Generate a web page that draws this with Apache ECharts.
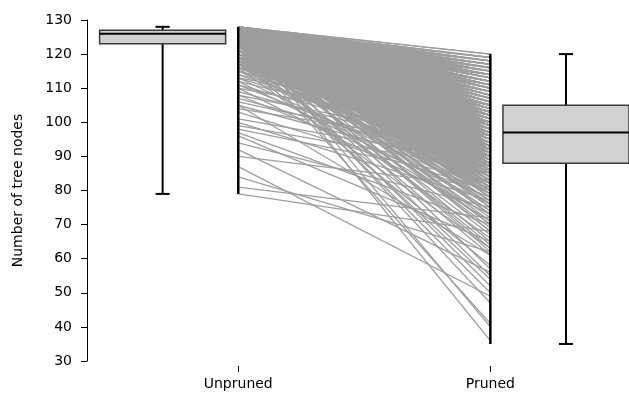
<!DOCTYPE html>
<html>
<head>
<meta charset="utf-8">
<script src="https://cdn.jsdelivr.net/npm/echarts@6/dist/echarts.min.js"></script>
<style>
  html, body { margin: 0; padding: 0; background: #fff; }
  #chart { width: 629px; height: 396px; }
</style>
</head>
<body>
<div id="chart"></div>
<script>
const groups = ['Unpruned', 'Pruned'];

// unpruned node count, and the pruned node counts of the trees that started there
const unprunedLevels = [
  128, 127, 126, 125, 124, 123, 122, 121, 120, 119, 118, 117, 116,
  115, 114, 113, 112, 111, 110, 109, 108, 107, 106, 105, 104, 103,
  101, 100, 99, 98, 97, 96, 94, 92, 90, 87, 84, 81, 79
];
const prunedByLevel = [
  [120,120,119,119,118,118,118,117,117,117,116,116,116,115,115,115,114,114,114,113,
   113,113,112,112,112,111,111,111,110,110,110,109,109,108,108,107,107,106,106,105,
   104,103,102,100,98,96,94,91,88,85,80,75,68,57,40,
   112,110,108,106,104,102,101,100,99,98,97,96,95,93,90,
   92,91,90,89,88,87],
  [119,118,118,117,116,116,115,115,114,114,113,113,112,112,111,111,110,110,109,109,
   108,108,107,107,106,106,105,105,104,104,103,103,102,102,101,101,100,100,99,99,
   98,97,96,95,94,93,92,91,90,89,87,84,78,70,36,
   107,105,103,101,99,97,96,95,94,93,92,91,90,88,86,
   92,91,90,89,88,87,86,85],
  [118,117,117,116,115,115,114,114,113,113,112,112,111,111,110,110,109,109,108,108,
   107,107,106,106,105,105,105,104,104,104,103,103,103,102,102,102,101,101,101,100,
   100,100,99,99,99,98,98,98,97,97,97,96,96,96,95,95,95,94,94,94,
   93,93,93,92,92,92,91,91,91,90,90,90,89,89,88,88,87,86,85,84,
   83,82,81,80,79,78,77,75,73,71,68,65,62,55,47,
   112,110,108,106,105,104,103,102,101,100,99,98,97,96,95,94,93,92,91,90,
   89,88,87,86,85,84,83,82,80,78,
   111,108,105,103,102,100,99,98,97,96,95,94,93,92,91,90,89,88,86,84,
   92,91,90,89,88,87,86,85,84,83,82,81],
  [116,114,112,110,109,107,106,105,104,103,102,101,100,99,98,97,96,95,94,93,
   92,91,90,89,88,87,85,83,81,79,76,73,69,63,52,
   91,90,89,88,87,86],
  [115,112,110,108,106,105,103,102,100,99,98,97,96,95,94,93,92,91,90,89,
   88,86,84,82,80,77,74,70,64,50,
   109,104,101,99,98,97,96,95,94,93,92,91,90,89,87,85,83,81,
   90,89,88,87,86],
  [114,111,109,107,105,104,102,101,99,98,97,96,95,94,93,92,91,90,89,88,
   87,86,85,83,81,79,76,72,67,61,54,41,
   106,103,100,99,98,97,96,95,94,93,92,91,90,89,88,86,84,82,
   89,88,87,86],
  [105,104,102,101,99,98,96,94,92,90,86,80, 100,97,95,93,91,89,87,85],
  [105,103,101,100,98,95,93,91,89,84,74, 99,96,94,92,90,88,83],
  [104,102,100,97,95,93,90,88,82,77, 98,96,92,89,86,84],
  [103,101,98,96,94,91,89,85,66, 99,95,93,87,80],
  [102,99,97,94,92,90,83,58, 96,93,88,79],
  [100,97,95,93,89,81,71],
  [99,96,91,86,63],
  [98,92,84],
  [97,88],
  [100,90,79],
  [94,76],
  [91,82],
  [96,73],
  [89],
  [93,78],
  [87],
  [90],
  [85,61],
  [92],
  [80],
  [88],
  [77],
  [86],
  [83],
  [70],
  [65],
  [75],
  [56],
  [81],
  [49],
  [62],
  [72],
  [68]
];

// box summaries: [min, q1, median, q3, max]
const unprunedBox = [79, 123, 126, 127, 128];
const prunedBox = [35, 88, 97, 105, 120];

const pairs = [];
unprunedLevels.forEach((u, i) => {
  prunedByLevel[i].forEach(p => pairs.push({coords: [[0, u], [1, p]]}));
});

const chart = echarts.init(document.getElementById('chart'));

function renderBox(params, api) {
  const x = api.value(0);
  const s = [1, 2, 3, 4, 5].map(i => api.value(i));
  const half = 0.25, cap = 0.028;
  const p = (dx, v) => api.coord([x + dx, v]);
  const line = (a, b, w) => ({
    type: 'line',
    shape: {x1: a[0], y1: a[1], x2: b[0], y2: b[1]},
    style: {stroke: '#000', lineWidth: w}
  });
  const tl = p(-half, s[3]), br = p(half, s[1]);
  return {
    type: 'group',
    children: [
      line(p(0, s[3]), p(0, s[4]), 2),
      line(p(0, s[1]), p(0, s[0]), 2),
      line(p(-cap, s[4]), p(cap, s[4]), 2),
      line(p(-cap, s[0]), p(cap, s[0]), 2),
      {
        type: 'rect',
        shape: {x: tl[0], y: tl[1], width: br[0] - tl[0], height: br[1] - tl[1]},
        style: {fill: '#d0d1d0', stroke: '#3a3a3a', lineWidth: 1.5}
      },
      line(p(-half, s[2]), p(half, s[2]), 2)
    ]
  };
}

function renderRange(params, api) {
  const a = api.coord([api.value(0), api.value(1)]);
  const b = api.coord([api.value(0), api.value(2)]);
  return {
    type: 'line',
    shape: {x1: a[0], y1: a[1], x2: b[0], y2: b[1]},
    style: {stroke: '#000', lineWidth: 2.5}
  };
}

chart.setOption({
  animation: false,
  grid: {left: 87, right: 0, top: 20, bottom: 35},
  xAxis: {
    type: 'value',
    min: -0.6,
    max: 1.55,
    offset: 5,
    splitLine: {show: false},
    axisLine: {show: false},
    axisTick: {show: true, length: 6, customValues: [0, 1], lineStyle: {color: '#000'}},
    axisLabel: {
      customValues: [0, 1],
      formatter: v => groups[Math.round(v)],
      color: '#000',
      fontSize: 14,
      fontFamily: 'DejaVu Sans',
      margin: 11
    }
  },
  yAxis: {
    type: 'value',
    min: 30,
    max: 130,
    interval: 10,
    name: 'Number of tree nodes',
    nameLocation: 'middle',
    nameGap: 62,
    nameTextStyle: {color: '#000', fontSize: 14, fontFamily: 'DejaVu Sans'},
    splitLine: {show: false},
    axisLine: {show: true, onZero: false, lineStyle: {color: '#000', width: 1}},
    axisTick: {show: true, length: 6, lineStyle: {color: '#000'}},
    axisLabel: {color: '#000', fontSize: 14, fontFamily: 'DejaVu Sans', margin: 15}
  },
  series: [
    {
      type: 'lines',
      coordinateSystem: 'cartesian2d',
      silent: true,
      lineStyle: {color: '#9e9e9e', width: 1.3, opacity: 1},
      data: pairs,
      z: 1
    },
    {
      type: 'custom',
      renderItem: renderRange,
      silent: true,
      data: [
        [0, unprunedBox[0], unprunedBox[4]],
        [1, prunedBox[0], prunedBox[4]]
      ],
      z: 3
    },
    {
      type: 'custom',
      renderItem: renderBox,
      silent: true,
      clip: false,
      data: [
        [-0.3].concat(unprunedBox),
        [1.3].concat(prunedBox)
      ],
      z: 3
    }
  ]
});
</script>
</body>
</html>
